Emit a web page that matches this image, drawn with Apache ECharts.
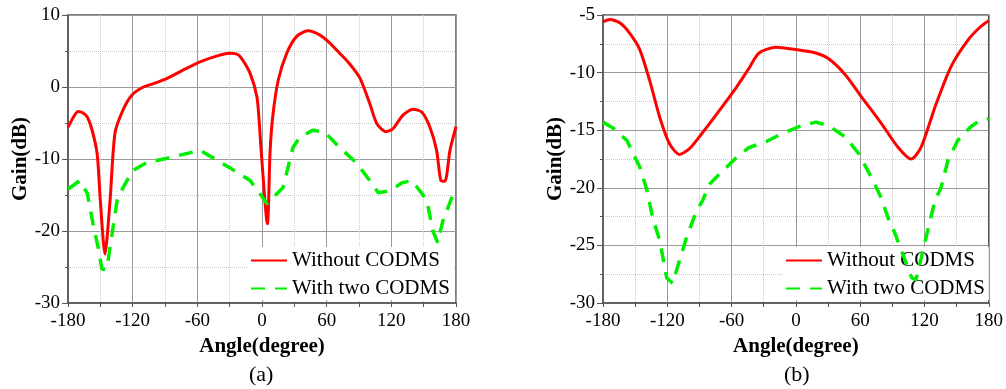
<!DOCTYPE html>
<html>
<head>
<meta charset="utf-8">
<script src="https://cdn.jsdelivr.net/npm/echarts@6/dist/echarts.min.js"></script>
<style>
  html, body { margin: 0; padding: 0; background: #fff; }
  #chart { width: 1006px; height: 389px; }
</style>
</head>
<body>
<div id="chart"></div>
<script>
// (a) - gain vs angle
const redAngleA = [-180, -175, -170.7, -166, -162, -158, -153, -150, -145.7, -141, -136.4, -129, -120.6, -110, -100, -88, -75, -57.5, -40, -30, -24, -20, -11, -4.7, -2.5, -0.8, 5, 7.5, 9.9, 15, 23, 32, 42.6, 53.8, 63, 72, 82, 91, 100, 106.6, 115, 121.5, 130.8, 140, 148.4, 155.8, 162, 166, 169.7, 174.4, 180];
const redGainA = [-5.6, -4.2, -3.4, -3.6, -4.2, -5.8, -9.2, -15.8, -23.2, -15.8, -6.4, -3.2, -1.1, 0, 0.5, 1.2, 2.2, 3.5, 4.4, 4.7, 4.6, 4.2, 1.9, -1.4, -5, -8.8, -19, -9, -4.2, 0.9, 4.7, 7, 7.8, 7.2, 6.1, 4.7, 3.1, 1.2, -2.3, -5.1, -6.2, -5.8, -3.9, -3.1, -3.5, -5.6, -8.8, -13, -13.1, -8.8, -5.5];
const greenAngleA = [-180, -169, -162, -156.8, -152, -148.5, -144, -141, -134.5, -129, -120, -107, -88, -57.5, -30, -11, -1, 4.6, 14, 19.4, 28.7, 35, 47, 58.4, 72, 88, 100, 108, 119, 130, 139, 148, 153, 158.6, 163, 167.8, 176, 180];
const greenGainA = [-14.2, -13, -14.8, -19, -22.3, -25.3, -25.3, -22.3, -15.8, -14, -11.6, -10.5, -9.9, -8.8, -11.2, -13, -15, -16.2, -14.8, -14, -8.4, -7, -6, -6.3, -8.4, -10.6, -13, -14.7, -14.4, -13.3, -13, -14.7, -15.8, -20, -21.6, -18.6, -15.4, -14];

// (b)
const redAngleB = [-180, -173.5, -164, -155, -145.7, -136.4, -127, -117.8, -108.6, -99.3, -87, -71.5, -55.7, -43.6, -34.4, -18.6, 0, 18.5, 30.6, 46.3, 61.2, 79.7, 95.5, 107.6, 116.8, 129.8, 144.7, 160.4, 172.5, 180];
const redGainB = [-5.6, -5.4, -5.7, -6.6, -8, -10.7, -13.9, -16.2, -17.1, -16.6, -15.2, -13.3, -11.3, -9.6, -8.3, -7.8, -8, -8.3, -8.8, -10.2, -12.1, -14.4, -16.5, -17.5, -16.5, -13, -9.5, -7.2, -6, -5.5];
const greenAngleB = [-180, -170.7, -157.7, -145.7, -139, -133.6, -127, -120.6, -115, -108.6, -102, -92.8, -87, -80.7, -74.5, -55.7, -43.6, -28, -13, 2.7, 18.5, 30.6, 46.3, 58.4, 70.5, 79.8, 86, 92.7, 97.4, 102, 108, 112, 117, 121.5, 129.8, 135.4, 142, 151, 163.2, 172.5, 180];
const greenGainB = [-14.3, -14.8, -15.9, -18.2, -20.2, -22.6, -24.6, -27.8, -28.3, -26.3, -24.3, -22, -21.1, -19.7, -19.1, -17.4, -16.5, -16, -15.3, -14.7, -14.3, -14.6, -15.6, -17, -19.1, -20.9, -22.6, -24, -25.2, -26.3, -27.8, -28, -26.1, -24.3, -21.1, -20, -17.6, -15.9, -14.7, -14.1, -14];

const xTicks = { min: -180, max: 180, interval: 60 };
const yRangeA = { min: -30, max: 10, interval: 10 };
const yRangeB = { min: -30, max: -5, interval: 5 };

const FONT = '"Liberation Serif", "Times New Roman", serif';
const RED = '#ff0000';
const GREEN = '#00ee00';

function pairs(xs, ys) {
  return xs.map((x, i) => [x, ys[i]]);
}

function makeX(idx) {
  return {
    type: 'value',
    gridIndex: idx,
    min: xTicks.min,
    max: xTicks.max,
    interval: xTicks.interval,
    name: 'Angle(degree)',
    nameLocation: 'middle',
    nameGap: 25,
    nameTextStyle: { fontFamily: FONT, fontWeight: 'bold', fontSize: 21, color: '#000' },
    axisLine: { onZero: false, lineStyle: { color: '#555', width: 1.5 } },
    axisTick: { show: true, inside: false, length: 4, lineStyle: { color: '#555' } },
    minorTick: { show: true, splitNumber: 2, length: 4, lineStyle: { color: '#555' } },
    axisLabel: { fontFamily: FONT, fontSize: 19, color: '#000', margin: 9 },
    splitLine: { show: true, lineStyle: { color: '#999', width: 1 } },
    minorSplitLine: { show: true, lineStyle: { color: '#c8c8c8', type: 'dotted', width: 1 } }
  };
}

function makeY(idx, r) {
  return {
    type: 'value',
    gridIndex: idx,
    min: r.min,
    max: r.max,
    interval: r.interval,
    name: 'Gain(dB)',
    nameLocation: 'middle',
    nameRotate: 90,
    nameGap: 35,
    nameTextStyle: { fontFamily: FONT, fontWeight: 'bold', fontSize: 21, color: '#000' },
    axisLine: { onZero: false, lineStyle: { color: '#555', width: 1.5 } },
    axisTick: { show: true, inside: false, length: 6, lineStyle: { color: '#555' } },
    minorTick: { show: true, splitNumber: 2, length: 3, lineStyle: { color: '#555' } },
    axisLabel: { fontFamily: FONT, fontSize: 19, color: '#000', margin: 8 },
    splitLine: { show: true, lineStyle: { color: '#999', width: 1 } },
    minorSplitLine: { show: true, lineStyle: { color: '#c8c8c8', type: 'dotted', width: 1 } }
  };
}

function redSeries(idx, data) {
  return {
    name: 'Without CODMS',
    type: 'line',
    xAxisIndex: idx,
    yAxisIndex: idx,
    data: data,
    smooth: 0.25,
    symbol: 'none',
    lineStyle: { color: RED, width: 3 },
    itemStyle: { color: RED },
    z: 3
  };
}

function greenSeries(idx, data, z) {
  return {
    name: 'With two CODMS',
    type: 'line',
    xAxisIndex: idx,
    yAxisIndex: idx,
    data: data,
    smooth: false,
    symbol: 'none',
    lineStyle: { color: GREEN, width: 3.5, type: [14, 10] },
    itemStyle: { color: GREEN },
    z: z
  };
}

function makeLegend(left) {
  return {
    orient: 'vertical',
    left: left,
    top: 247,
    padding: [3, 4, 1, 3],
    itemGap: 7,
    itemWidth: 36,
    itemHeight: 14,
    backgroundColor: '#fff',
    itemStyle: { opacity: 0 },
    textStyle: { fontFamily: FONT, fontSize: 21, color: '#000', lineHeight: 21 },
    data: ['Without CODMS', 'With two CODMS']
  };
}

let myChart = echarts.init(document.getElementById('chart'), null, { renderer: 'canvas' });
let option = {
  animation: false,
  backgroundColor: '#fff',
  grid: [
    { left: 68, top: 15, width: 388, height: 288, show: true, borderColor: '#555', borderWidth: 1.5, backgroundColor: 'transparent' },
    { left: 603, top: 15, width: 388, height: 288, show: true, borderColor: '#555', borderWidth: 1.5, backgroundColor: 'transparent' }
  ],
  legend: [makeLegend(247), makeLegend(782)],
  xAxis: [makeX(0), makeX(1)],
  yAxis: [makeY(0, yRangeA), makeY(1, yRangeB)],
  series: [
    redSeries(0, pairs(redAngleA, redGainA)),
    greenSeries(0, pairs(greenAngleA, greenGainA), 3),
    redSeries(1, pairs(redAngleB, redGainB)),
    greenSeries(1, pairs(greenAngleB, greenGainB), 6)
  ],
  graphic: [
    { type: 'text', left: 249, top: 364, style: { text: '(a)', font: '22px ' + FONT, fill: '#000' } },
    { type: 'text', left: 784, top: 364, style: { text: '(b)', font: '22px ' + FONT, fill: '#000' } }
  ]
};
myChart.setOption(option, true);
</script>
</body>
</html>
